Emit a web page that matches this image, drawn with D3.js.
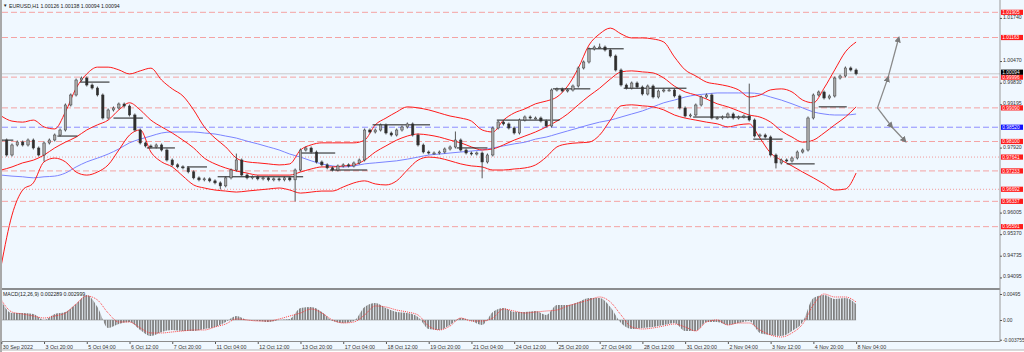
<!DOCTYPE html>
<html>
<head>
<meta charset="utf-8">
<script src="https://cdn.jsdelivr.net/npm/d3@7"></script>
<style>
  body { margin: 0; background: #fff; }
  svg text { font-family: "Liberation Sans", Arial, sans-serif; }
</style>
</head>
<body>
<svg id="chart" width="1024" height="352"></svg>
<script>
// EURUSD H1, closes sampled every 4 bars
const candleStep = 4;
const closes = [
  0.98144, 0.97702, 0.97997, 0.98085, 0.97997, 0.98144, 0.97908, 0.97702, 0.98056, 0.98144,
  0.98291, 0.98438, 0.99175, 0.99470, 0.99911, 0.99970, 0.99764, 0.99675, 0.99470, 0.98792,
  0.99028, 0.99087, 0.99204, 0.99145, 0.98881, 0.98438, 0.98056, 0.97967, 0.97938, 0.97997,
  0.97849, 0.97555, 0.97412, 0.97353, 0.97323, 0.97206, 0.97028, 0.96970, 0.96999, 0.96940,
  0.96881, 0.96792, 0.97028, 0.97260, 0.97555, 0.97113, 0.97028, 0.97058, 0.96999, 0.97028,
  0.96970, 0.96999, 0.96970, 0.97028, 0.96970, 0.97260, 0.97849, 0.97908, 0.97790, 0.97496,
  0.97412, 0.97323, 0.97260, 0.97378, 0.97412, 0.97378, 0.97466, 0.97555, 0.98438, 0.98380,
  0.98438, 0.98586, 0.98350, 0.98291, 0.98438, 0.98527, 0.98616, 0.98291, 0.97997, 0.97790,
  0.97761, 0.97761, 0.97790, 0.97879, 0.97938, 0.98144, 0.97849, 0.97761, 0.97731, 0.97761,
  0.97496, 0.97702, 0.98497, 0.98674, 0.98616, 0.98497, 0.98350, 0.98733, 0.98822, 0.98792,
  0.98792, 0.98704, 0.98557, 0.99617, 0.99646, 0.99587, 0.99617, 0.99734, 1.00265, 1.00442,
  1.00825, 1.00883, 1.00883, 1.00795, 1.00618, 1.00206, 0.99764, 0.99675, 0.99823, 0.99705,
  0.99499, 0.99734, 0.99411, 0.99587, 0.99617, 0.99617, 0.99440, 0.99087, 0.98851, 0.98881,
  0.99175, 0.99411, 0.99470, 0.98792, 0.98792, 0.98822, 0.98910, 0.98792, 0.98822, 0.98851,
  0.98733, 0.98262, 0.98291, 0.98232, 0.97702, 0.97466, 0.97555, 0.97525, 0.97614, 0.97790,
  0.97849, 0.98792, 0.99470, 0.99558, 0.99381, 0.99440, 0.99970, 1.00029, 1.00265, 1.00206,
  1.00094
];
// long wicks: [bar, high/low, price]
const spikes = [
  [4, "l", 0.9770], [32, "l", 0.9755], [164, "l", 0.9673], [176, "h", 0.9770],
  [220, "l", 0.9638], [340, "h", 0.9835], [360, "l", 0.9706], [448, "h", 1.0094],
  [560, "h", 0.9976], [580, "l", 0.9735]
];

// indicators, one value every 8 bars
const indStep = 8;
const bbUpper = [
  0.9885, 0.9870, 0.9867, 0.9873, 0.9853, 0.9847, 0.9897, 0.9967, 1.0009, 1.0029,
  1.0029, 1.0021, 1.0009, 1.0018, 1.0026, 0.9991, 0.9965, 0.9944, 0.9903, 0.9853,
  0.9820, 0.9794, 0.9761, 0.9750, 0.9747, 0.9744, 0.9741, 0.9744, 0.9785, 0.9800,
  0.9806, 0.9806, 0.9806, 0.9806, 0.9814, 0.9859, 0.9879, 0.9897, 0.9912, 0.9909,
  0.9903, 0.9894, 0.9885, 0.9879, 0.9870, 0.9844, 0.9838, 0.9873, 0.9894, 0.9906,
  0.9921, 0.9929, 0.9941, 0.9973, 1.0026, 1.0094, 1.0127, 1.0144, 1.0127, 1.0115,
  1.0115, 1.0112, 1.0103, 1.0059, 1.0021, 1.0003, 0.9985, 0.9979, 0.9973, 0.9962,
  0.9941, 0.9947, 0.9962, 0.9965, 0.9956, 0.9932, 0.9924, 0.9967, 1.0021, 1.0074,
  1.0103
];
const bbMiddle = [
  0.9726, 0.9735, 0.9747, 0.9755, 0.9770, 0.9791, 0.9808, 0.9823, 0.9844, 0.9859,
  0.9873, 0.9903, 0.9924, 0.9903, 0.9873, 0.9853, 0.9835, 0.9814, 0.9791, 0.9761,
  0.9744, 0.9732, 0.9723, 0.9717, 0.9711, 0.9711, 0.9711, 0.9711, 0.9720, 0.9729,
  0.9735, 0.9735, 0.9738, 0.9741, 0.9755, 0.9779, 0.9797, 0.9814, 0.9826, 0.9832,
  0.9829, 0.9823, 0.9814, 0.9806, 0.9794, 0.9785, 0.9788, 0.9800, 0.9814, 0.9826,
  0.9838, 0.9853, 0.9870, 0.9891, 0.9918, 0.9944, 0.9967, 0.9994, 1.0015, 1.0018,
  1.0015, 1.0012, 0.9997, 0.9973, 0.9956, 0.9947, 0.9935, 0.9921, 0.9912, 0.9900,
  0.9888, 0.9882, 0.9867, 0.9841, 0.9823, 0.9808, 0.9814, 0.9835, 0.9859, 0.9882,
  0.9912
];
const bbLower = [
  0.9446, 0.9593, 0.9667, 0.9688, 0.9750, 0.9761, 0.9750, 0.9720, 0.9711, 0.9720,
  0.9741, 0.9785, 0.9829, 0.9844, 0.9779, 0.9750, 0.9735, 0.9708, 0.9682, 0.9673,
  0.9667, 0.9664, 0.9661, 0.9664, 0.9667, 0.9670, 0.9673, 0.9667, 0.9658, 0.9661,
  0.9664, 0.9664, 0.9676, 0.9688, 0.9694, 0.9685, 0.9682, 0.9694, 0.9726, 0.9755,
  0.9764, 0.9761, 0.9753, 0.9744, 0.9738, 0.9735, 0.9726, 0.9726, 0.9729, 0.9732,
  0.9741, 0.9764, 0.9794, 0.9803, 0.9806, 0.9808, 0.9829, 0.9873, 0.9915, 0.9918,
  0.9915, 0.9912, 0.9903, 0.9888, 0.9879, 0.9873, 0.9867, 0.9862, 0.9853, 0.9859,
  0.9862, 0.9820, 0.9776, 0.9755, 0.9738, 0.9720, 0.9703, 0.9685, 0.9667, 0.9670,
  0.9717
];
const maBlue = [
  0.9711, 0.9708, 0.9706, 0.9703, 0.9706, 0.9708, 0.9717, 0.9735, 0.9750, 0.9761,
  0.9773, 0.9788, 0.9806, 0.9817, 0.9826, 0.9835, 0.9838, 0.9838, 0.9838, 0.9835,
  0.9832, 0.9826, 0.9820, 0.9811, 0.9803, 0.9794, 0.9785, 0.9773, 0.9764, 0.9753,
  0.9744, 0.9738, 0.9735, 0.9738, 0.9744, 0.9747, 0.9750, 0.9753, 0.9758, 0.9764,
  0.9770, 0.9773, 0.9776, 0.9779, 0.9782, 0.9785, 0.9791, 0.9797, 0.9803, 0.9808,
  0.9817, 0.9823, 0.9832, 0.9841, 0.9850, 0.9859, 0.9867, 0.9873, 0.9882, 0.9891,
  0.9900, 0.9912, 0.9924, 0.9932, 0.9941, 0.9947, 0.9950, 0.9953, 0.9953, 0.9953,
  0.9953, 0.9950, 0.9941, 0.9932, 0.9921, 0.9909, 0.9897, 0.9891, 0.9888, 0.9888,
  0.9891
];
const macdMain = [
  0.00362, 0.00133, 0.00133, 0.00114, 0, 0.00114, 0.00152, 0.00305, 0.00476, 0.00247,
  -0.00152, -0.00076, -0.00038, -0.00190, -0.00305, -0.00228, -0.00190, -0.00209, -0.00209, -0.00171,
  -0.00133, -0.00038, 0.00076, 0, -0.00019, -0.00038, 0, 0.00019, 0.00228, 0.00247,
  0.00152, -0.00019, -0.00057, -0.00019, 0.00247, 0.00324, 0.00228, 0.00152, 0.00133, 0.00057,
  -0.00171, -0.00190, -0.00095, 0.00038, -0.00019, -0.00095, 0.00152, 0.00228, 0.00152, 0.00152,
  0.00171, 0.00095, 0.00286, 0.00286, 0.00343, 0.00419, 0.00419, 0.00247, -0.00057, -0.00171,
  -0.00152, -0.00133, -0.00095, -0.00057, -0.00209, -0.00209, -0.00038, -0.00038, -0.00095, -0.00057,
  -0.00019, -0.00247, -0.00286, -0.00305, -0.00209, -0.00038, 0.00419, 0.00476, 0.00400, 0.00419,
  0.00305
];
const macdSignal = [
  0.00381, 0.00152, 0.00114, 0.00076, 0.00038, 0.00076, 0.00133, 0.00305, 0.00457, 0.00381,
  0.00133, -0.00038, -0.00038, -0.00152, -0.00247, -0.00247, -0.00228, -0.00209, -0.00190, -0.00190,
  -0.00133, -0.00076, 0.00019, 0, -0.00019, -0.00019, 0.00019, 0.00076, 0.00133, 0.00209,
  0.00133, 0, -0.00057, -0.00038, 0.00095, 0.00267, 0.00247, 0.00190, 0.00152, 0.00095,
  -0.00114, -0.00190, -0.00114, 0.00038, -0.00019, -0.00019, 0.00038, 0.00209, 0.00171, 0.00133,
  0.00152, 0.00171, 0.00190, 0.00267, 0.00324, 0.00381, 0.00438, 0.00343, 0.00095, -0.00133,
  -0.00171, -0.00152, -0.00114, -0.00076, -0.00133, -0.00209, -0.00038, 0, -0.00095, -0.00057,
  -0.00057, -0.00190, -0.00286, -0.00324, -0.00247, -0.00076, 0.00286, 0.00495, 0.00438, 0.00438,
  0.00343
];

// horizontal swing lines: [from bar, to bar, price]
const swingLines = [
  [0, 9, 0.9814], [42, 57, 0.9826], [59, 81, 0.9985], [84, 106, 0.9879],
  [109, 130, 0.9791], [139, 154, 0.9735], [162, 226, 0.9706], [224, 250, 0.9776],
  [246, 274, 0.9726], [278, 321, 0.9859], [341, 364, 0.9791], [371, 418, 0.9873],
  [413, 441, 0.9965], [439, 466, 1.0083], [466, 513, 0.9967], [518, 561, 0.9882],
  [563, 585, 0.9817], [588, 609, 0.9744], [612, 633, 0.9912]
];

// levels
const redDashLevels = [1.01905, 1.01163, 0.99996, 0.99090, 0.98100, 0.97233, 0.96337, 0.95591];
const redDotLevels = [0.97641, 0.96692];
const blueLevel = 0.98520;
const lastPrice = 1.00094;

// projected paths: [bar, price]
const forecastUp = [[656, 0.99090], [664, 0.99996], [672, 1.01163]];
const forecastDown = [[656, 0.99090], [667, 0.98520], [677, 0.98100]];

// axes
const priceTicks = [1.01740, 1.00470, 0.99830, 0.99195, 0.97920, 0.96005, 0.95370, 0.94735, 0.94095];
const macdTicks = [0.00495, 0, -0.003755];
const macdTickLabels = ["0.00495", "0.00", "-0.003755"];
const timeTickBars = d3.range(0, 641, 32);
const timeLabels = ["30 Sep 2022", "3 Oct 20:00", "5 Oct 04:00", "6 Oct 12:00", "7 Oct 20:00",
  "11 Oct 04:00", "12 Oct 12:00", "13 Oct 20:00", "17 Oct 04:00", "18 Oct 12:00", "19 Oct 20:00",
  "21 Oct 04:00", "24 Oct 12:00", "25 Oct 20:00", "27 Oct 04:00", "28 Oct 12:00", "31 Oct 20:00",
  "2 Nov 04:00", "3 Nov 12:00", "4 Nov 20:00", "8 Nov 04:00"];

const titleText = "EURUSD,H1  1.00126 1.00138 1.00094 1.00094";
const macdTitle = "MACD(12,26,9) 0.002289 0.002999";

/* ---------- drawing ---------- */
const svg = d3.select("#chart");
const bg = "#f0f8ff";
const axisX = 1000;
const mainBottom = 288;

const x = d3.scaleLinear().domain([0, 640]).range([1.3, 856.1]);
const y = d3.scaleLinear().domain([0.93784, 1.02268]).range([mainBottom, 0]);
const ym = d3.scaleLinear().domain([-0.0040, 0.00571]).range([341, 290]);

svg.append("rect").attr("width", 1024).attr("height", 352).attr("fill", "#fff");
svg.append("rect").attr("x", 2).attr("y", 0).attr("width", 1022).attr("height", 350).attr("fill", bg);
svg.append("rect").attr("x", 0).attr("y", 0).attr("width", 2).attr("height", 352).attr("fill", "#a9a9a9");

const defs = svg.append("defs");
defs.append("clipPath").attr("id", "mainClip")
  .append("rect").attr("x", 2).attr("y", 0).attr("width", axisX - 2).attr("height", mainBottom);
defs.append("clipPath").attr("id", "macdClip")
  .append("rect").attr("x", 2).attr("y", 290).attr("width", axisX - 2).attr("height", 51);
const stripes = defs.append("pattern").attr("id", "stripes")
  .attr("patternUnits", "userSpaceOnUse").attr("width", 2.67).attr("height", 10);
stripes.append("rect").attr("width", 1.7).attr("height", 10).attr("fill", "#7e7e7e");
defs.append("marker").attr("id", "arrow")
  .attr("viewBox", "0 0 8 8").attr("refX", 6).attr("refY", 4)
  .attr("markerWidth", 5).attr("markerHeight", 5).attr("orient", "auto")
  .append("path").attr("d", "M0,0 L8,4 L0,8 z").attr("fill", "#7a7a7a");

const main = svg.append("g").attr("clip-path", "url(#mainClip)");

// level lines
main.selectAll(".lvl-dash").data(redDashLevels).enter().append("line")
  .attr("x1", 2).attr("x2", axisX).attr("y1", d => y(d)).attr("y2", d => y(d))
  .attr("stroke", "#f4a3a3").attr("stroke-width", 1).attr("stroke-dasharray", "6,3");
main.selectAll(".lvl-dot").data(redDotLevels).enter().append("line")
  .attr("x1", 2).attr("x2", axisX).attr("y1", d => y(d)).attr("y2", d => y(d))
  .attr("stroke", "#f29b9b").attr("stroke-width", 1).attr("stroke-dasharray", "1,2");
main.append("line").attr("x1", 2).attr("x2", axisX)
  .attr("y1", y(blueLevel)).attr("y2", y(blueLevel))
  .attr("stroke", "#8e8eff").attr("stroke-width", 1).attr("stroke-dasharray", "6,3");
main.append("line").attr("x1", 2).attr("x2", axisX)
  .attr("y1", y(lastPrice)).attr("y2", y(lastPrice))
  .attr("stroke", "#c6c9cc").attr("stroke-width", 1);

// moving average + bollinger
const indLine = d3.line().x((d, i) => x(i * indStep)).y(d => y(d)).curve(d3.curveMonotoneX);
main.append("path").attr("d", indLine(maBlue)).attr("fill", "none")
  .attr("stroke", "#7b84ff").attr("stroke-width", 1);
[bbUpper, bbMiddle, bbLower].forEach(arr => {
  main.append("path").attr("d", indLine(arr)).attr("fill", "none")
    .attr("stroke", "#ff1a1a").attr("stroke-width", 1);
});

// swing lines
main.selectAll(".swing").data(swingLines).enter().append("line")
  .attr("x1", d => x(d[0])).attr("x2", d => x(d[1]))
  .attr("y1", d => y(d[2])).attr("y2", d => y(d[2]))
  .attr("stroke", "#1a1a1a").attr("stroke-width", 1);

// candles
const spikeMap = {};
spikes.forEach(s => { spikeMap[s[0]] = s; });
const candles = closes.map((c, i) => {
  const o = i ? closes[i - 1] : c;
  let hi = Math.max(o, c), lo = Math.min(o, c);
  const s = spikeMap[i * candleStep];
  if (s && s[1] === "h") hi = s[2];
  if (s && s[1] === "l") lo = s[2];
  return { bar: i * candleStep, o, c, hi, lo };
});
const cg = main.append("g");
cg.selectAll(".wick").data(candles).enter().append("line")
  .attr("x1", d => x(d.bar)).attr("x2", d => x(d.bar))
  .attr("y1", d => y(d.hi) - 1.5).attr("y2", d => y(d.lo) + 1.5)
  .attr("stroke", "#444").attr("stroke-width", 0.9);
cg.selectAll(".body").data(candles).enter().append("rect")
  .attr("x", d => x(d.bar) - 1.2).attr("width", 2.4)
  .attr("y", d => y(Math.max(d.o, d.c)))
  .attr("height", d => Math.max(1, Math.abs(y(d.o) - y(d.c))))
  .attr("fill", d => d.c >= d.o ? "#a8a8a8" : "#2e2e2e")
  .attr("stroke", "#3a3a3a").attr("stroke-width", 0.5);

// forecast arrows
const fLine = d3.line().x(d => x(d[0])).y(d => y(d[1]));
[forecastUp, forecastDown].forEach(path => {
  main.append("path").attr("d", fLine(path)).attr("fill", "none")
    .attr("stroke", "#8a8a8a").attr("stroke-width", 1.3)
    .attr("marker-mid", "url(#arrow)").attr("marker-end", "url(#arrow)");
});

// title
svg.append("text").attr("x", 3).attr("y", 7).attr("font-size", 4.5).attr("fill", "#222").text("▼");
svg.append("text").attr("x", 9).attr("y", 7.5).attr("font-size", 5.2).attr("fill", "#222").text(titleText);

// separators / borders
svg.append("line").attr("x1", 2).attr("x2", axisX).attr("y1", 289).attr("y2", 289)
  .attr("stroke", "#6a6a6a").attr("stroke-width", 1.5);
svg.append("line").attr("x1", 2).attr("x2", axisX).attr("y1", 341.5).attr("y2", 341.5)
  .attr("stroke", "#8c8c8c").attr("stroke-width", 1);
svg.append("line").attr("x1", axisX).attr("x2", axisX).attr("y1", 0).attr("y2", 342)
  .attr("stroke", "#9a9a9a").attr("stroke-width", 1);
svg.append("line").attr("x1", 0).attr("x2", 1024).attr("y1", 350).attr("y2", 350)
  .attr("stroke", "#b5b5b5").attr("stroke-width", 1);

// MACD panel
const macd = svg.append("g").attr("clip-path", "url(#macdClip)");
const hist = d3.area().x((d, i) => x(i * indStep)).y0(ym(0)).y1(d => ym(d)).curve(d3.curveMonotoneX);
macd.append("path").attr("d", hist(macdMain)).attr("fill", "url(#stripes)");
macd.append("line").attr("x1", 2).attr("x2", x(640)).attr("y1", ym(0)).attr("y2", ym(0))
  .attr("stroke", "#8a8a8a").attr("stroke-width", 0.6);
const sigLine = d3.line().x((d, i) => x(i * indStep)).y(d => ym(d)).curve(d3.curveMonotoneX);
macd.append("path").attr("d", sigLine(macdSignal)).attr("fill", "none")
  .attr("stroke", "#ff3030").attr("stroke-width", 0.9).attr("stroke-dasharray", "1,1");
svg.append("text").attr("x", 3).attr("y", 296).attr("font-size", 5.2).attr("fill", "#222").text(macdTitle);

// price axis
const yAxis = svg.append("g").attr("transform", `translate(${axisX},0)`)
  .call(d3.axisRight(y).tickValues(priceTicks).tickSize(2).tickPadding(1).tickFormat(d3.format(".5f")));
yAxis.select(".domain").remove();
yAxis.selectAll("line").attr("stroke", "#555");
yAxis.selectAll("text").attr("font-size", 5.2).attr("fill", "#333").attr("dy", "0.1em")
  .attr("font-family", "Liberation Sans");

const macdAxis = svg.append("g").attr("transform", `translate(${axisX},0)`)
  .call(d3.axisRight(ym).tickValues(macdTicks).tickSize(2).tickPadding(1)
    .tickFormat((d, i) => macdTickLabels[i]));
macdAxis.select(".domain").remove();
macdAxis.selectAll("line").attr("stroke", "#555");
macdAxis.selectAll("text").attr("font-size", 4.8).attr("fill", "#333")
  .attr("font-family", "Liberation Sans");

// level tags on the axis (shift nudges the box, as the terminal does for the bid tag)
function tag(p, fill, shift) {
  const cy = y(p) + (shift || 0);
  const g = svg.append("g");
  g.append("rect").attr("x", axisX + 1).attr("y", cy - 2.6).attr("width", 22).attr("height", 5.2).attr("fill", fill);
  g.append("text").attr("x", axisX + 2.3).attr("y", cy + 1.7).attr("font-size", 4.8)
    .attr("fill", "#fff").text(d3.format(".5f")(p));
}
redDashLevels.concat(redDotLevels).forEach(p => tag(p, "#ff1c1c"));
tag(blueLevel, "#1010ff");
tag(lastPrice, "#000", -1.6);

// time axis
const xAxis = svg.append("g").attr("transform", "translate(0,342)")
  .call(d3.axisBottom(x).tickValues(timeTickBars).tickSize(2).tickPadding(1)
    .tickFormat((d, i) => timeLabels[i]));
xAxis.select(".domain").remove();
xAxis.selectAll("line").attr("stroke", "#555");
xAxis.selectAll("text").attr("font-size", 5.3).attr("fill", "#333")
  .attr("text-anchor", "start").attr("dx", 1).attr("font-family", "Liberation Sans");
</script>
</body>
</html>
